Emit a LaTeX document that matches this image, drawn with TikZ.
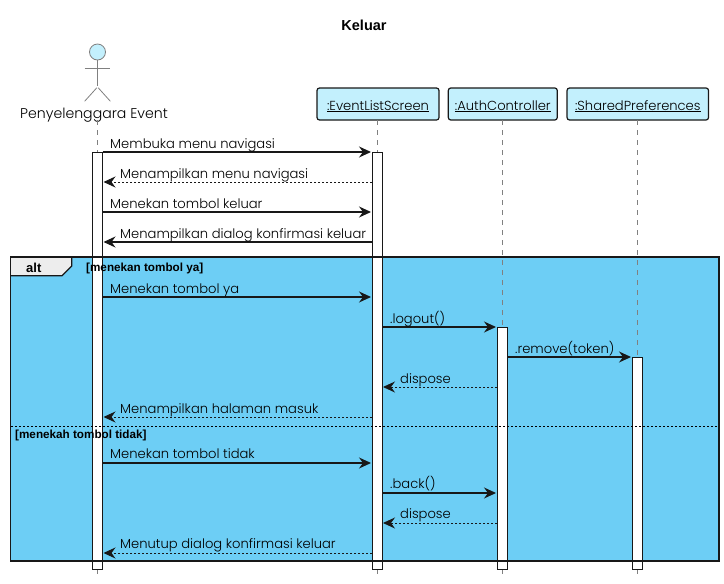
\documentclass[tikz,border=0pt]{standalone}
\usepackage{xcolor,fontspec}
\usetikzlibrary{arrows.meta}
\setmainfont{Poppins}[UprightFont=* Light]
\newfontfamily\boldface{Liberation Sans Bold}
\definecolor{partfill}{HTML}{C3F0FD}
\definecolor{altfill}{HTML}{6DCEF5}
\definecolor{edgedark}{HTML}{181818}
\tikzset{
	partbox/.style={rectangle, draw=edgedark, fill=partfill, line width=1.2pt, rounded corners=2.5pt, minimum height=32pt, inner sep=0pt, text height=14pt, text depth=2pt, font=\fontsize{13.1}{15}\selectfont},
	lifeline/.style={draw=black!50, line width=0.8pt, dash pattern=on 5pt off 5pt},
	actbar/.style={rectangle, draw=edgedark, fill=white, line width=1pt, minimum width=10pt, inner sep=0pt, outer sep=0pt},
	msgsolid/.style={draw=edgedark, line width=1.05pt, shorten >=1pt, -{Stealth[length=12pt, width=11pt, inset=4pt]}},
	msgdash/.style={msgsolid, line width=0.9pt, dash pattern=on 2pt off 2pt},
	msgtext/.style={anchor=base west, inner sep=0pt, font=\fontsize{13.1}{15}\selectfont},
	guardtext/.style={anchor=base west, inner sep=0pt, font=\boldface\fontsize{11.7}{13}\selectfont}
}
\begin{document}
\begin{tikzpicture}[x=1pt, y=-1pt]
	\useasboundingbox (0, 0) rectangle (724, 584);
	\fill[altfill] (10.5, 257) rectangle (719, 561);
	\fill[white!93!black] (10.5, 257) -- (71.7, 257) -- (71.7, 266) -- (62, 275.7) -- (10.5, 275.7) -- cycle;
	% title and actor
	\draw (364, 30) node [inner sep=0pt, anchor=base, font=\boldface\fontsize{14.5}{16}\selectfont] (title) {Keluar};
	\draw (97.5, 52) node [circle, draw=black!50, fill=partfill, line width=0.8pt, minimum size=16pt, inner sep=0pt] (head) {};
	\draw (97.5, 87) node [inner sep=0pt] (hip) {};
	\draw (84, 68) node [inner sep=0pt] (armL) {};
	\draw (111, 68) node [inner sep=0pt] (armR) {};
	\draw (84, 102) node [inner sep=0pt] (footL) {};
	\draw (111, 102) node [inner sep=0pt] (footR) {};
	\path[draw=black!50, line width=0.8pt] (head) edge (hip) (armL) edge (armR) (hip) edge (footL) (hip) edge (footR);
	\draw (94, 118) node [msgtext, anchor=base, font=\fontsize{14.1}{16}\selectfont] (actor) {Penyelenggara Event};
	% participants
	\draw (378, 104) node [partbox, minimum width=122pt] (evt) {\underline{:EventListScreen}};
	\draw (502.8, 104) node [partbox, minimum width=109pt] (auth) {\underline{:AuthController}};
	\draw (637.8, 104) node [partbox, minimum width=141.5pt] (shared) {\underline{:SharedPreferences}};
	% lifelines
	\coordinate (actTop) at (97.5, 120);
	\coordinate (actEnd) at (97.5, 574);
	\coordinate (evtTop) at (377, 120);
	\coordinate (evtEnd) at (377, 574);
	\coordinate (authTop) at (502, 120);
	\coordinate (authEnd) at (502, 574);
	\coordinate (sharedTop) at (637, 120);
	\coordinate (sharedEnd) at (637, 574);
	\path (actTop) edge[lifeline] (actEnd);
	\path (evtTop) edge[lifeline] (evtEnd);
	\path (authTop) edge[lifeline] (authEnd);
	\path (sharedTop) edge[lifeline] (sharedEnd);
	% activation bars
	\draw (97.5, 360.5) node [actbar, minimum height=417pt] (barA) {};
	\draw (377, 360.5) node [actbar, minimum height=417pt] (barE) {};
	\draw (502, 448) node [actbar, minimum height=242pt] (barC) {};
	\draw (637, 463) node [actbar, minimum height=212pt] (barS) {};
	% alt frame
	\draw (10.5, 257) node [inner sep=0pt] (frameNW) {};
	\draw (719, 257) node [inner sep=0pt] (frameNE) {};
	\draw (719, 561) node [inner sep=0pt] (frameSE) {};
	\draw (10.5, 561) node [inner sep=0pt] (frameSW) {};
	\draw (10.5, 426.5) node [inner sep=0pt] (divL) {};
	\draw (719, 426.5) node [inner sep=0pt] (divR) {};
	\draw[edgedark, line width=1.5pt] (frameNW.center) -- (frameNE.center) -- (frameSE.center) -- (frameSW.center) -- cycle;
	\draw[edgedark, line width=1.2pt] (10.5, 275.7) -- (62, 275.7) -- (71.7, 266) -- (71.7, 257);
	\path (divL) edge[black, line width=0.8pt, dash pattern=on 2pt off 2pt] (divR);
	\draw (26, 272) node [guardtext, font=\boldface\fontsize{13}{15}\selectfont] (altlabel) {alt};
	\draw (86, 271) node [guardtext] (guardYa) {[menekan tombol ya]};
	\draw (15, 438) node [guardtext] (guardTidak) {[menekah tombol tidak]};
	% message rows
	\coordinate (m1) at (0, 152);
	\coordinate (m2) at (0, 182);
	\coordinate (m3) at (0, 212);
	\coordinate (m4) at (0, 242);
	\coordinate (m5) at (0, 297);
	\coordinate (m6) at (0, 327);
	\coordinate (m7) at (0, 357);
	\coordinate (m8) at (0, 387);
	\coordinate (m9) at (0, 417);
	\coordinate (m10) at (0, 463);
	\coordinate (m11) at (0, 493);
	\coordinate (m12) at (0, 523);
	\coordinate (m13) at (0, 553);
	\path (barA.east |- m1) edge[msgsolid] (barE.west |- m1);
	\path (barE.west |- m2) edge[msgdash] (barA.east |- m2);
	\path (barA.east |- m3) edge[msgsolid] (barE.west |- m3);
	\path (barE.west |- m4) edge[msgsolid] (barA.east |- m4);
	\path (barA.east |- m5) edge[msgsolid] (barE.west |- m5);
	\path (barE.east |- m6) edge[msgsolid] (barC.west |- m6);
	\path (barC.east |- m7) edge[msgsolid] (barS.west |- m7);
	\path (barC.west |- m8) edge[msgdash] (barE.east |- m8);
	\path (barE.west |- m9) edge[msgdash] (barA.east |- m9);
	\path (barA.east |- m10) edge[msgsolid] (barE.west |- m10);
	\path (barE.east |- m11) edge[msgsolid] (barC.west |- m11);
	\path (barC.west |- m12) edge[msgdash] (barE.east |- m12);
	\path (barE.west |- m13) edge[msgdash] (barA.east |- m13);
	% message labels
	\draw (110, 148) node [msgtext] (t1) {Membuka menu navigasi};
	\draw (120, 178) node [msgtext] (t2) {Menampilkan menu navigasi};
	\draw (110, 208) node [msgtext] (t3) {Menekan tombol keluar};
	\draw (120, 238) node [msgtext] (t4) {Menampilkan dialog konfirmasi keluar};
	\draw (110, 293) node [msgtext] (t5) {Menekan tombol ya};
	\draw (390, 323) node [msgtext] (t6) {.logout()};
	\draw (515, 353) node [msgtext] (t7) {.remove(token)};
	\draw (400, 383) node [msgtext] (t8) {dispose};
	\draw (120, 413) node [msgtext] (t9) {Menampilkan halaman masuk};
	\draw (110, 458) node [msgtext] (t10) {Menekan tombol tidak};
	\draw (390, 488) node [msgtext] (t11) {.back()};
	\draw (400, 518) node [msgtext] (t12) {dispose};
	\draw (120, 548) node [msgtext] (t13) {Menutup dialog konfirmasi keluar};
\end{tikzpicture}
\end{document}
